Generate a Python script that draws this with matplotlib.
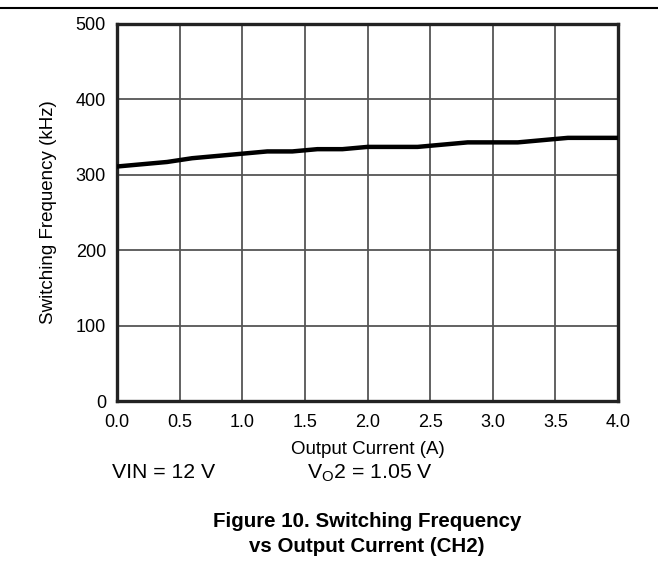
import matplotlib
matplotlib.use("Agg")
import matplotlib.pyplot as plt
from matplotlib.lines import Line2D

current_a = [0.0, 0.4, 0.6, 1.2, 1.4, 1.6, 1.8, 2.0, 2.4, 2.8, 3.2, 3.6, 4.0]
freq_khz = [311, 317, 322, 331, 331, 334, 334, 337, 337, 343, 343, 349, 349]
x_ticks = [0.0, 0.5, 1.0, 1.5, 2.0, 2.5, 3.0, 3.5, 4.0]
x_tick_labels = ["0.0", "0.5", "1.0", "1.5", "2.0", "2.5", "3.0", "3.5", "4.0"]
y_ticks = [0, 100, 200, 300, 400, 500]
y_tick_labels = ["0", "100", "200", "300", "400", "500"]

plt.rcParams['font.family'] = ['Liberation Sans', 'DejaVu Sans']

W, H = 658, 571
fig = plt.figure(figsize=(W / 100, H / 100), dpi=100)
ax_l, ax_r, ax_t, ax_b = 117, 618, 24, 401
ax = fig.add_axes([ax_l / W, 1 - ax_b / H, (ax_r - ax_l) / W, (ax_b - ax_t) / H])

ax.plot(current_a, freq_khz, color='black', lw=3.2, solid_joinstyle='round', zorder=3)
ax.set_xlim(0, 4)
ax.set_ylim(0, 500)
ax.set_xticks(x_ticks)
ax.set_xticklabels(x_tick_labels)
ax.set_yticks(y_ticks)
ax.set_yticklabels(y_tick_labels)
ax.tick_params(length=0, labelsize=13, pad=8)
ax.tick_params(axis='x', pad=9.5)
ax.grid(True, color='#555555', lw=1.3)
for s in ax.spines.values():
    s.set_linewidth(2.4)
    s.set_color('#222222')
ax.set_xlabel("Output Current (A)", fontsize=13.5)
ax.xaxis.set_label_coords(0.5, (ax_b - 441) / (ax_b - ax_t))
ax.xaxis.label.set_va('top')
ax.set_ylabel("Switching Frequency (kHz)", fontsize=13.5)
ax.yaxis.set_label_coords((49 - ax_l) / (ax_r - ax_l), 0.5)
ax.yaxis.label.set_va('center')

fig.add_artist(Line2D([0, 1], [1 - 7.5 / H, 1 - 7.5 / H], color='black', lw=1.5,
                      transform=fig.transFigure))

fig.text(112 / W, 1 - 478 / H, "VIN = 12 V", fontsize=15.3, va='baseline', ha='left')
fig.text(307 / W, 1 - 478 / H, r"V$_\mathregular{O}$2 = 1.05 V", fontsize=15.3,
         va='baseline', ha='left')
fig.text(367 / W, 1 - 527 / H, "Figure 10. Switching Frequency", fontsize=14.8,
         fontweight='bold', ha='center', va='baseline')
fig.text(367 / W, 1 - 552 / H, "vs Output Current (CH2)", fontsize=14.8,
         fontweight='bold', ha='center', va='baseline')

fig.savefig("out.png", dpi=100)
